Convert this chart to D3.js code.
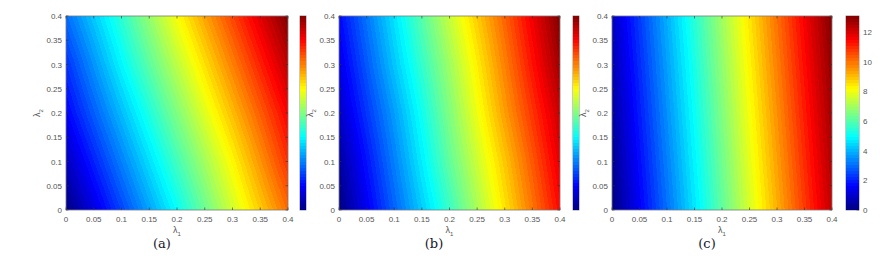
<!DOCTYPE html>
<html><head><meta charset="utf-8">
<script src="https://cdn.jsdelivr.net/npm/d3@7"></script>
<style>
body{margin:0;background:#fff}
text.lab{font-family:"Liberation Sans",Arial,sans-serif}
text.cap{font-family:"DejaVu Serif","Liberation Serif",serif}
</style>
</head><body>
<svg id="chart" width="890" height="267"></svg>
<script>
// grid positions (λ1 columns, λ2 rows)
const lambda1Grid = [0, 0.1, 0.2, 0.3, 0.4];
const lambda2Grid = [0, 0.1, 0.2, 0.3, 0.4];
const xTickValues = [0, 0.05, 0.1, 0.15, 0.2, 0.25, 0.3, 0.35, 0.4];
const yTickValues = [0, 0.05, 0.1, 0.15, 0.2, 0.25, 0.3, 0.35, 0.4];
const colorbarTicksC = [0, 2, 4, 6, 8, 10, 12];
const panelLabels = ["(a)", "(b)", "(c)"];

// values, rows = λ2 (0 → 0.4), columns = λ1 (0 → 0.4)
const valuesA = [
  [0.00, 0.19, 0.38, 0.58, 0.77],
  [0.06, 0.25, 0.44, 0.63, 0.83],
  [0.12, 0.31, 0.50, 0.69, 0.88],
  [0.17, 0.37, 0.56, 0.75, 0.94],
  [0.23, 0.42, 0.62, 0.81, 1.00]
];
const valuesB = [
  [0.00, 0.22, 0.43, 0.65, 0.87],
  [0.03, 0.25, 0.47, 0.68, 0.90],
  [0.07, 0.28, 0.50, 0.72, 0.93],
  [0.10, 0.32, 0.53, 0.75, 0.97],
  [0.13, 0.35, 0.57, 0.78, 1.00]
];
const valuesC = [
  [0.00, 3.06, 6.12, 9.18, 12.24],
  [0.21, 3.27, 6.33, 9.39, 12.45],
  [0.42, 3.48, 6.54, 9.60, 12.66],
  [0.63, 3.69, 6.75, 9.81, 12.87],
  [0.84, 3.90, 6.96, 10.02, 13.08]
];
const panelValues = [valuesA, valuesB, valuesC];

// layout (pixels)
const layout = [
  {left: 66,  right: 288, cbLeft: 300, cbWidth: 6,  cbTicks: [], capX: 162},
  {left: 339, right: 560, cbLeft: 573, cbWidth: 6,  cbTicks: [], capX: 434},
  {left: 612, right: 832, cbLeft: 846, cbWidth: 13, cbTicks: colorbarTicksC, capX: 707}
];
const plotTop = 16, plotBottom = 210;

const jet = d3.scaleLinear()
  .domain([0, 0.125, 0.375, 0.625, 0.875, 1])
  .range(["#000080", "#0000ff", "#00ffff", "#ffff00", "#ff0000", "#800000"])
  .interpolate(d3.interpolateRgb);
const nLevels = 64;
const levelColors = d3.range(nLevels).map(i => d3.rgb(jet((i + 0.5) / nLevels)));

const svg = d3.select("#chart");

function bilinear(vals, l1, l2) {
  const fi = Math.max(0, Math.min(lambda1Grid.length - 1.000001, (l1 - lambda1Grid[0]) / (lambda1Grid[1] - lambda1Grid[0])));
  const fj = Math.max(0, Math.min(lambda2Grid.length - 1.000001, (l2 - lambda2Grid[0]) / (lambda2Grid[1] - lambda2Grid[0])));
  const i = Math.floor(fi), j = Math.floor(fj);
  const u = fi - i, v = fj - j;
  const a = vals[j][i], b = vals[j][i + 1], c = vals[j + 1][i], d = vals[j + 1][i + 1];
  return a * (1 - u) * (1 - v) + b * u * (1 - v) + c * (1 - u) * v + d * u * v;
}

panelValues.forEach((vals, k) => {
  const L = layout[k];
  const x = d3.scaleLinear().domain([0, 0.4]).range([L.left, L.right]);
  const y = d3.scaleLinear().domain([0, 0.4]).range([plotBottom, plotTop]);
  const vmin = d3.min(vals.flat()), vmax = d3.max(vals.flat());
  const level = d3.scaleQuantize().domain([vmin, vmax]).range(levelColors);

  // heatmap image
  const w = Math.round(L.right - L.left), h = plotBottom - plotTop;
  const cv = document.createElement("canvas");
  cv.width = w; cv.height = h;
  const ctx = cv.getContext("2d");
  const img = ctx.createImageData(w, h);
  for (let py = 0; py < h; py++) {
    const l2 = y.invert(plotTop + py + 0.5);
    for (let px = 0; px < w; px++) {
      const l1 = x.invert(L.left + px + 0.5);
      const col = level(bilinear(vals, l1, l2));
      const o = (py * w + px) * 4;
      img.data[o] = col.r; img.data[o + 1] = col.g; img.data[o + 2] = col.b; img.data[o + 3] = 255;
    }
  }
  ctx.putImageData(img, 0, 0);
  svg.append("image").attr("x", L.left).attr("y", plotTop).attr("width", w).attr("height", h)
    .attr("preserveAspectRatio", "none").attr("href", cv.toDataURL());

  const g = svg.append("g");
  g.append("rect").attr("x", L.left).attr("y", plotTop).attr("width", L.right - L.left).attr("height", plotBottom - plotTop)
    .attr("fill", "none").attr("stroke", "#7a7a7a").attr("stroke-width", 0.8);

  const tl = 2.5;
  xTickValues.forEach(t => {
    g.append("line").attr("x1", x(t)).attr("x2", x(t)).attr("y1", plotBottom).attr("y2", plotBottom - tl).attr("stroke", "#333").attr("stroke-width", 0.6);
    g.append("line").attr("x1", x(t)).attr("x2", x(t)).attr("y1", plotTop).attr("y2", plotTop + tl).attr("stroke", "#333").attr("stroke-width", 0.6);
    g.append("text").attr("class", "lab").attr("x", x(t)).attr("y", 222).attr("text-anchor", "middle")
      .attr("font-size", 8).attr("fill", "#555").text(t);
  });
  yTickValues.forEach(t => {
    g.append("line").attr("x1", L.left).attr("x2", L.left + tl).attr("y1", y(t)).attr("y2", y(t)).attr("stroke", "#333").attr("stroke-width", 0.6);
    g.append("line").attr("x1", L.right).attr("x2", L.right - tl).attr("y1", y(t)).attr("y2", y(t)).attr("stroke", "#333").attr("stroke-width", 0.6);
    g.append("text").attr("class", "lab").attr("x", L.left - 4).attr("y", y(t) + 3).attr("text-anchor", "end")
      .attr("font-size", 8).attr("fill", "#555").text(t);
  });

  const xl = g.append("text").attr("class", "lab").attr("x", (L.left + L.right) / 2).attr("y", 233).attr("text-anchor", "middle")
    .attr("font-size", 9).attr("fill", "#555");
  xl.append("tspan").text("λ");
  xl.append("tspan").attr("font-size", 6).attr("dy", 2.5).text("1");
  const yl = g.append("text").attr("class", "lab").attr("transform", `translate(${L.left - 26},${(plotTop + plotBottom) / 2}) rotate(-90)`)
    .attr("text-anchor", "middle").attr("font-size", 9).attr("fill", "#555");
  yl.append("tspan").text("λ");
  yl.append("tspan").attr("font-size", 6).attr("dy", 2.5).text("2");

  g.append("text").attr("class", "cap").attr("x", L.capX).attr("y", 248).attr("text-anchor", "middle")
    .attr("font-size", 13).attr("fill", "#15152a").text(panelLabels[k]);

  // colorbar
  const cy = d3.scaleLinear().domain([vmin, vmax]).range([plotBottom, plotTop]);
  const cbc = document.createElement("canvas");
  cbc.width = 1; cbc.height = h;
  const cctx = cbc.getContext("2d");
  for (let py = 0; py < h; py++) {
    cctx.fillStyle = level(cy.invert(plotTop + py + 0.5)).toString();
    cctx.fillRect(0, py, 1, 1);
  }
  svg.append("image").attr("x", L.cbLeft).attr("y", plotTop).attr("width", L.cbWidth).attr("height", h)
    .attr("preserveAspectRatio", "none").attr("href", cbc.toDataURL());
  g.append("rect").attr("x", L.cbLeft).attr("y", plotTop).attr("width", L.cbWidth).attr("height", h)
    .attr("fill", "none").attr("stroke", "#7a7a7a").attr("stroke-width", 0.8);
  L.cbTicks.forEach(t => {
    g.append("line").attr("x1", L.cbLeft + L.cbWidth).attr("x2", L.cbLeft + L.cbWidth - 2.5)
      .attr("y1", cy(t)).attr("y2", cy(t)).attr("stroke", "#333").attr("stroke-width", 0.6);
    g.append("text").attr("class", "lab").attr("x", L.cbLeft + L.cbWidth + 4).attr("y", cy(t) + 3)
      .attr("font-size", 8).attr("fill", "#555").text(t);
  });
});
</script>
</body></html>
